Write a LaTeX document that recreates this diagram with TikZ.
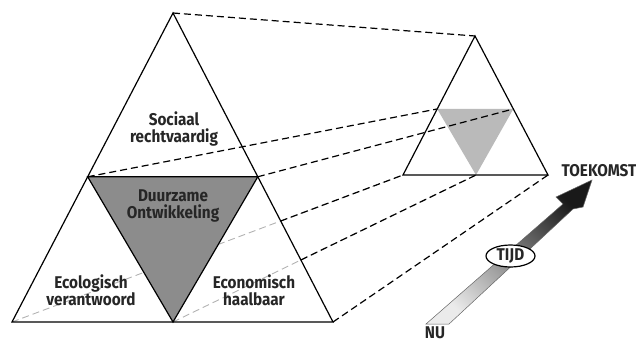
\documentclass[tikz,border=0pt]{standalone}
\usepackage{fontspec}
\setmainfont{Fira Sans}[FakeStretch=0.9]
\usetikzlibrary{calc, shapes.geometric}

\begin{document}
\begin{tikzpicture}[x=1pt, y=-1pt,
		edge/.style={line width=1.2pt, line join=miter},
		link/.style={dash pattern=on 7pt off 4pt, line width=1.2pt},
		hidden/.style={dash pattern=on 7pt off 4pt, line width=0.9pt, black!30},
		label/.style={font=\fontsize{17}{17}\selectfont\bfseries, text=black!85, align=center, inner sep=0pt}]
		\useasboundingbox (0,0) rectangle (636,343);

		% big triangle (now)
		\coordinate (top) at (173,13);
		\coordinate (bl) at (12,322);
		\coordinate (br) at (333,322);
		\coordinate (bm) at (173,322);
		\coordinate (lm) at ($(top)!0.53!(bl)$);
		\coordinate (rm) at ($(top)!0.53!(br)$);

		% small triangle (future)
		\coordinate (stop) at (475,36);
		\coordinate (sbl) at (403,175);
		\coordinate (sbr) at (548,175);
		\coordinate (sbm) at (476,175);
		\coordinate (slm) at ($(stop)!0.525!(sbl)$);
		\coordinate (srm) at ($(stop)!0.525!(sbr)$);

		% lines running behind the big triangle
		\foreach \a/\b in {bl/sbl, bm/sbm} {
			\draw[hidden] (\a) -- (\b);
		}

		\fill[black!45] (lm) -- (rm) -- (bm) -- cycle;
		\draw[edge] (top) -- (br) -- (bl) -- cycle;
		\draw[edge] (lm) -- (rm) -- (bm) -- cycle;

		\fill[black!27] (slm) -- (srm) -- (sbm) -- cycle;
		\draw[edge] (stop) -- (sbr) -- (sbl) -- cycle;

		\coordinate (ex1) at (intersection of bl--sbl and top--br);
		\coordinate (ex2) at (intersection of bm--sbm and top--br);
		\draw[link] (ex1) -- (sbl);
		\draw[link] (ex2) -- (sbm);
		\foreach \a/\b in {top/stop, lm/slm, rm/srm, br/sbr} {
			\draw[link] (\a) -- (\b);
		}

		% time arrow
		\shade[draw=black!60, line width=0.5pt, top color=black!90, bottom color=black!8, shading angle=-45]
			(426,324) -- (449,324) -- (573,209) -- (583,207) -- (592,180) -- (556,197) -- (563,204) -- cycle;

		\node[label] (soc) at (174,129) {Sociaal\\rechtvaardig};
		\node[label] (duur) at (173,206) {Duurzame\\Ontwikkeling};
		\node[label] (eco) at (91,290) {Ecologisch\\verantwoord};
		\node[label] (econ) at (254,290) {Economisch\\haalbaar};
		\node[label] (future) at (599,171) {TOEKOMST};
		\node[label] (now) at (435,333) {NU};
		\node[label, ellipse, draw=black, fill=white, line width=1.2pt, minimum width=49pt, minimum height=22pt] (tijd) at (510.5,256) {TIJD};
	\end{tikzpicture}
\end{document}
